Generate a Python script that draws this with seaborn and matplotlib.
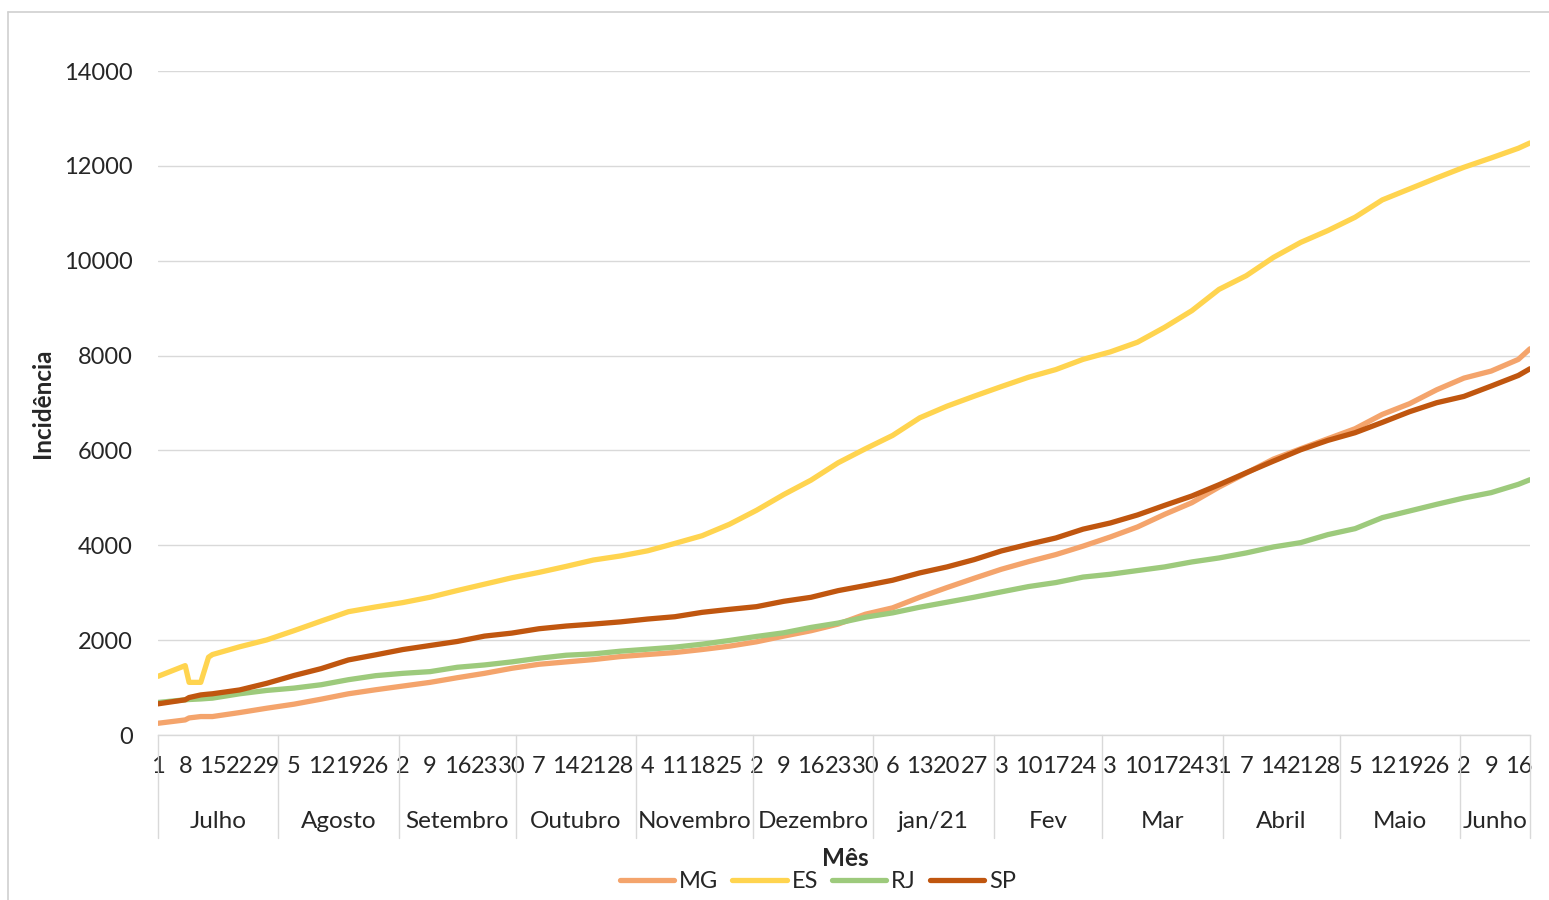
import matplotlib.pyplot as plt
import matplotlib.lines as mlines
import seaborn as sns
import pandas as pd

# eixo de categorias: dias de 01/07/2020 a 19/06/2021
inicio = '2020-07-01'
n_dias = 354

# dias (posição no eixo) em que os valores foram lidos
dias = [0, 7, 8, 11, 13] + list(range(14, 351, 7)) + [353]

mg = [247, 318, 360, 389, 389, 389, 473, 565, 650, 756, 869, 954, 1032, 1110,
      1208, 1300, 1406, 1491, 1541, 1590, 1654, 1697, 1739, 1802, 1873, 1965,
      2085, 2198, 2339, 2547, 2681, 2905, 3109, 3305, 3495, 3656, 3804, 3982,
      4175, 4386, 4653, 4898, 5228, 5523, 5818, 6035, 6247, 6458, 6760, 6985,
      7279, 7525, 7673, 7919, 8143]
es = [1237, 1463, 1110, 1110, 1640, 1696, 1860, 2005, 2200, 2403, 2600, 2700,
      2792, 2905, 3046, 3180, 3314, 3428, 3555, 3689, 3775, 3884, 4040, 4202,
      4442, 4738, 5070, 5373, 5740, 6035, 6316, 6688, 6933, 7144, 7347, 7544,
      7705, 7920, 8077, 8281, 8596, 8947, 9396, 9684, 10070, 10386, 10636,
      10917, 11282, 11514, 11746, 11970, 12167, 12371, 12483]
rj = [686, 742, 748, 760, 772, 777, 869, 940, 989, 1060, 1166, 1251, 1300,
      1336, 1428, 1477, 1541, 1618, 1682, 1710, 1767, 1809, 1852, 1915, 1993,
      2078, 2155, 2268, 2360, 2484, 2575, 2695, 2800, 2905, 3018, 3130, 3214,
      3330, 3389, 3467, 3544, 3649, 3733, 3839, 3965, 4056, 4225, 4351, 4583,
      4723, 4864, 4997, 5110, 5285, 5383]
sp = [657, 742, 790, 845, 862, 869, 950, 1090, 1255, 1400, 1583, 1690, 1802,
      1887, 1972, 2085, 2148, 2240, 2297, 2339, 2385, 2445, 2494, 2586, 2649,
      2706, 2819, 2903, 3044, 3151, 3263, 3418, 3544, 3698, 3881, 4021, 4154,
      4340, 4470, 4639, 4842, 5039, 5277, 5530, 5775, 6014, 6212, 6374, 6591,
      6816, 7006, 7139, 7357, 7581, 7722]

estados = ['MG', 'ES', 'RJ', 'SP']
cores = {'MG': '#F4A46C', 'ES': '#FFD44F', 'RJ': '#9DCA7C', 'SP': '#C0560F'}
meses = ['Julho', 'Agosto', 'Setembro', 'Outubro', 'Novembro', 'Dezembro',
         'jan/21', 'Fev', 'Mar', 'Abril', 'Maio', 'Junho']

df = pd.concat([pd.DataFrame({'dia': dias, 'valor': v, 'estado': e})
                for e, v in zip(estados, [mg, es, rj, sp])])

datas = pd.date_range(inicio, periods=n_dias)
tick_pos = list(range(0, n_dias, 7))
tick_lab = [str(datas[i].day) for i in tick_pos]
limites = [i for i in range(n_dias) if datas[i].day == 1] + [n_dias - 1]

sns.set_style('white')
plt.rcParams['font.family'] = ['Lato', 'DejaVu Sans']

fig = plt.figure(figsize=(15.49, 9.0), dpi=100)
ax = fig.add_axes([158 / 1549, 1 - 735 / 900, 1372 / 1549, 664 / 900])

sns.lineplot(data=df, x='dia', y='valor', hue='estado', hue_order=estados,
             palette=cores, linewidth=3.8, ax=ax, legend=False,
             solid_capstyle='round', solid_joinstyle='round')

ax.set_xlim(0, n_dias - 1)
ax.set_ylim(0, 14000)
ax.set_yticks(range(0, 14001, 2000))
ax.grid(axis='y', color='#D9D9D9', linewidth=1.0)
ax.set_axisbelow(True)
for s in ['top', 'right', 'left']:
    ax.spines[s].set_visible(False)
ax.spines['bottom'].set_color('#D9D9D9')
ax.spines['bottom'].set_linewidth(1.0)
ax.tick_params(axis='y', length=0, pad=18, labelsize=17)
ax.set_xticks(tick_pos, tick_lab)
ax.tick_params(axis='x', length=0, pad=15, labelsize=17)
ax.set_xlabel('')
ax.set_ylabel('')

# rótulos dos meses e separadores
tr = ax.get_xaxis_transform()
y_sep = -(838 - 735) / 664
for x in limites:
    ax.plot([x, x], [0, y_sep], color='#D9D9D9', linewidth=1.0,
            transform=tr, clip_on=False)
for i, m in enumerate(meses):
    centro = (limites[i] + limites[i + 1]) / 2
    ax.text(centro, -(821 - 735) / 664, m, transform=tr, ha='center',
            va='center', fontsize=17.5)

fig.text(845 / 1549, 1 - 858 / 900, 'Mês', ha='center', va='center',
         fontsize=17.5, fontweight='bold')
fig.text(43 / 1549, 1 - 403 / 900, 'Incidência', ha='center', va='center',
         rotation=90, fontsize=17.5, fontweight='bold')

handles = [mlines.Line2D([], [], color=cores[e], linewidth=3.8,
                         solid_capstyle='round', label=e) for e in estados]
fig.legend(handles=handles, loc='center', bbox_to_anchor=(818 / 1549, 1 - 882 / 900),
           ncol=4, frameon=False, fontsize=17, handlelength=2.3,
           handletextpad=0.2, columnspacing=0.6, borderpad=0)

# borda da área do gráfico
fig.add_artist(mlines.Line2D([8 / 1549, 8 / 1549], [0, 1 - 12 / 900],
                             color='#D0D0D0', linewidth=1.2))
fig.add_artist(mlines.Line2D([8 / 1549, 1], [1 - 12 / 900, 1 - 12 / 900],
                             color='#D0D0D0', linewidth=1.2))

fig.savefig('out.png', dpi=100)
